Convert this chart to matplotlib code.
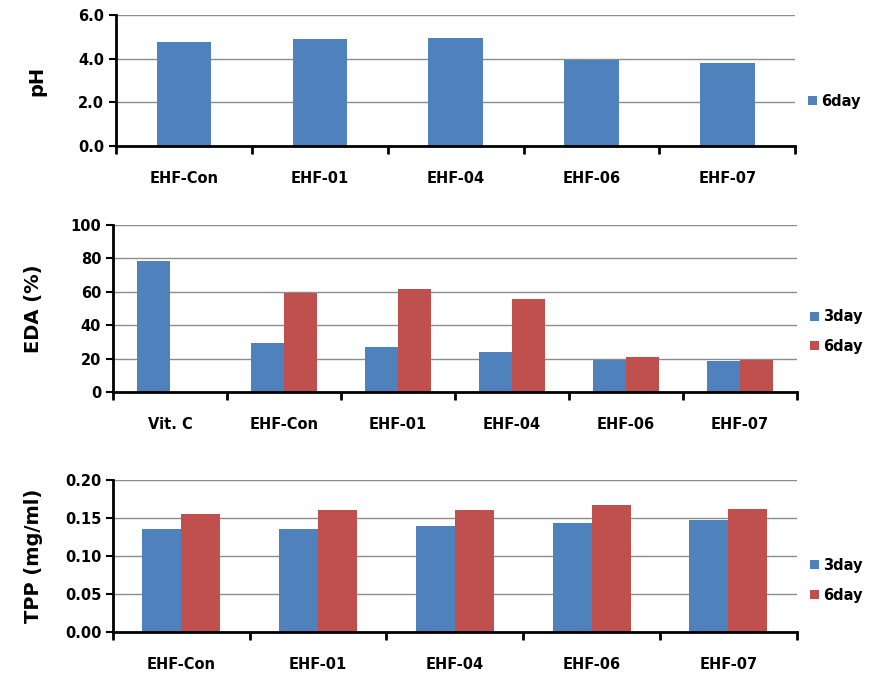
import matplotlib.pyplot as plt
import numpy as np

plt.rcParams['font.family'] = ['DejaVu Sans']
plt.rcParams['font.weight'] = 'bold'

# data
ph_groups = ['EHF-Con', 'EHF-01', 'EHF-04', 'EHF-06', 'EHF-07']
ph_6day = [4.77, 4.90, 4.94, 3.94, 3.81]

eda_groups = ['Vit. C', 'EHF-Con', 'EHF-01', 'EHF-04', 'EHF-06', 'EHF-07']
eda_3day = [78.4, 29.1, 26.9, 24.0, 19.2, 18.6]
eda_6day = [0, 59.1, 61.7, 55.5, 21.0, 19.2]

tpp_groups = ['EHF-Con', 'EHF-01', 'EHF-04', 'EHF-06', 'EHF-07']
tpp_3day = [0.136, 0.136, 0.139, 0.143, 0.147]
tpp_6day = [0.155, 0.160, 0.160, 0.167, 0.162]

blue = '#4F81BD'
red = '#C0504D'

fig = plt.figure(figsize=(8.72, 6.85), dpi=100)


def style_axis(ax, n, yticks, yfmt, ylabel):
    ax.set_xlim(-0.5, n - 0.5)
    ax.set_ylim(yticks[0], yticks[-1])
    ax.set_yticks(yticks)
    ax.set_yticklabels([yfmt.format(v) for v in yticks])
    ax.yaxis.grid(True, color='#8c8c8c', lw=1)
    ax.set_axisbelow(True)
    for s in ['top', 'right']:
        ax.spines[s].set_visible(False)
    for s in ['left', 'bottom']:
        ax.spines[s].set_linewidth(2)
    ax.set_xticks(np.arange(-0.5, n), minor=True)
    ax.tick_params(axis='x', which='minor', length=6, width=2, direction='out')
    ax.tick_params(axis='x', which='major', length=0, pad=18, labelsize=10.5)
    ax.tick_params(axis='y', length=5, width=1.5, direction='out', labelsize=10.5)
    ax.set_ylabel(ylabel, fontsize=14, fontweight='bold')
    # right edge of the rotated label sits ~70 px left of the axis
    ax.yaxis.set_label_coords(-70 / (ax.get_position().width * 872), 0.5)


leg_kw = dict(loc='center left', frameon=False, handlelength=0.6,
              handleheight=0.6, handletextpad=0.3, fontsize=10.5,
              labelspacing=1.0)

# pH panel
ax1 = fig.add_axes([0.133, 0.787, 0.779, 0.191])
x1 = np.arange(len(ph_groups))
ax1.bar(x1, ph_6day, 0.4, color=blue, label='6day')
ax1.set_xticks(x1)
ax1.set_xticklabels(ph_groups)
style_axis(ax1, len(ph_groups), [0, 2, 4, 6], '{:.1f}', 'pH')
ax1.legend(bbox_to_anchor=(1.0, 0.34), **leg_kw)

# EDA panel
ax2 = fig.add_axes([0.1296, 0.4277, 0.784, 0.2438])
x2 = np.arange(len(eda_groups))
w = 0.29
ax2.bar(x2 - w / 2, eda_3day, w, color=blue, label='3day')
ax2.bar(x2 + w / 2, eda_6day, w, color=red, label='6day')
ax2.set_xticks(x2)
ax2.set_xticklabels(eda_groups)
style_axis(ax2, len(eda_groups), [0, 20, 40, 60, 80, 100], '{:.0f}', 'EDA (%)')
ax2.legend(bbox_to_anchor=(1.0, 0.362), **leg_kw)

# TPP panel
ax3 = fig.add_axes([0.1296, 0.0774, 0.784, 0.222])
x3 = np.arange(len(tpp_groups))
w = 0.285
ax3.bar(x3 - w / 2, tpp_3day, w, color=blue, label='3day')
ax3.bar(x3 + w / 2, tpp_6day, w, color=red, label='6day')
ax3.set_xticks(x3)
ax3.set_xticklabels(tpp_groups)
style_axis(ax3, len(tpp_groups), [0, 0.05, 0.10, 0.15, 0.20], '{:.2f}', 'TPP (mg/ml)')
ax3.legend(bbox_to_anchor=(1.0, 0.34), **leg_kw)

fig.savefig('out.png', dpi=100)
